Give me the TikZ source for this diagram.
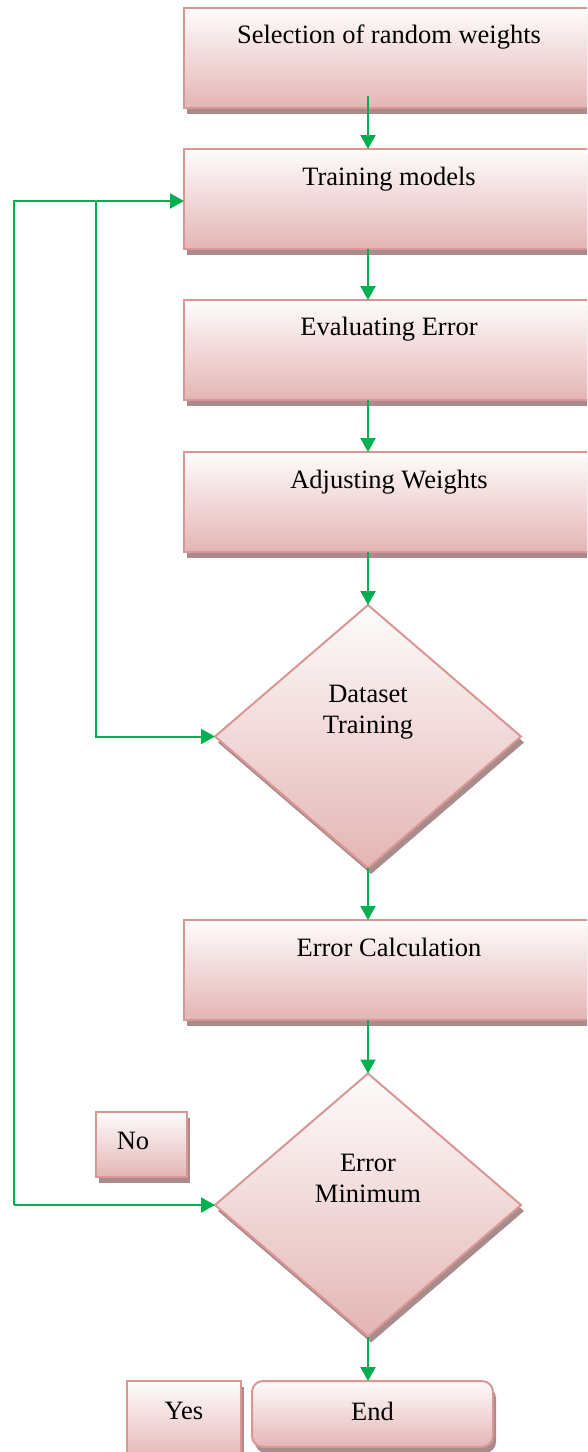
\documentclass[tikz,border=0pt]{standalone}
\usepackage{fontspec}
\setmainfont{Liberation Serif}
\usetikzlibrary{shapes.geometric,shadows,arrows.meta}
\definecolor{edgec}{RGB}{217,150,148}
\definecolor{topc}{RGB}{254,252,252}
\definecolor{botc}{RGB}{228,181,181}
\definecolor{shadc}{RGB}{168,140,140}
\definecolor{flowc}{RGB}{0,176,80}
\begin{document}
\begin{tikzpicture}[x=1pt,y=-1pt,
  font=\fontsize{26.5}{31}\selectfont,
  base/.style={draw=edgec,line width=2pt,top color=topc,bottom color=botc,
    inner sep=0pt,outer sep=0pt,
    general shadow={fill=shadc,shadow xshift=3pt,shadow yshift=-6pt}},
  stepbox/.style={base,rectangle,minimum width=410pt,minimum height=100pt},
  decision/.style={base,diamond,minimum width=306pt,minimum height=263pt},
  tagbox/.style={base,rectangle},
  txt/.style={anchor=center,align=center,text height=18pt,text depth=6pt,inner sep=0pt},
  flow/.style={draw=flowc,line width=2pt,-{Triangle[length=14pt,width=15pt]}}
]
\useasboundingbox (0,0) rectangle (587,1452);
\fill[white] (0,0) rectangle (587,1452);
\clip (0,0) rectangle (587,1452);

\node[stepbox,label={[txt,yshift=-29pt]north:Selection of random weights}] (b1) at (389,58) {};
\node[stepbox,label={[txt,yshift=-30pt]north:Training models}] (b2) at (389,199) {};
\node[stepbox,label={[txt,yshift=-29pt]north:Evaluating Error}] (b3) at (389,350) {};
\node[stepbox,label={[txt,yshift=-30pt]north:Adjusting Weights}] (b4) at (389,502) {};
\node[decision,label={[txt,yshift=-122pt]north:Dataset\\Training}] (d1) at (368,736.5) {};
\node[stepbox,label={[txt,yshift=-30pt]north:Error Calculation}] (b5) at (389,970) {};
\node[decision,label={[txt,yshift=-123pt]north:Error\\Minimum}] (d2) at (368,1205) {};
\node[tagbox,minimum width=91pt,minimum height=65pt,
  label={[txt,xshift=-8.5pt,yshift=-31pt]north:No}] (no) at (141.5,1144.5) {};
\node[tagbox,minimum width=114pt,minimum height=80pt,
  label={[txt,yshift=-32pt]north:Yes}] (yes) at (184,1421) {};
\node[base,rectangle,rounded corners=11pt,minimum width=241pt,minimum height=66pt,
  label={[txt,yshift=-33pt]north:End}] (en) at (372.5,1414) {};

\coordinate (lpA) at (14,1205);
\coordinate (lpB) at (96,201);

\draw[flow] ([yshift=12pt]b1.south -| d1.north) -- (b2.north -| d1.north);
\draw[flow] (b2.south -| d1.north) -- (b3.north -| d1.north);
\draw[flow] (b3.south -| d1.north) -- (b4.north -| d1.north);
\draw[flow] (b4.south -| d1.north) -- (d1.north);
\draw[flow] (d1.south) -- (b5.north -| d1.south);
\draw[flow] (b5.south -| d1.south) -- (d2.north);
\draw[flow] (d2.south) -- (d2.south |- en.north);

\draw[flow] (lpA) -- (d2.west);
\draw[flow] (lpA) |- ([yshift=-2pt]b2.west);
\draw[flow] (lpB) |- (d1.west);
\end{tikzpicture}
\end{document}
